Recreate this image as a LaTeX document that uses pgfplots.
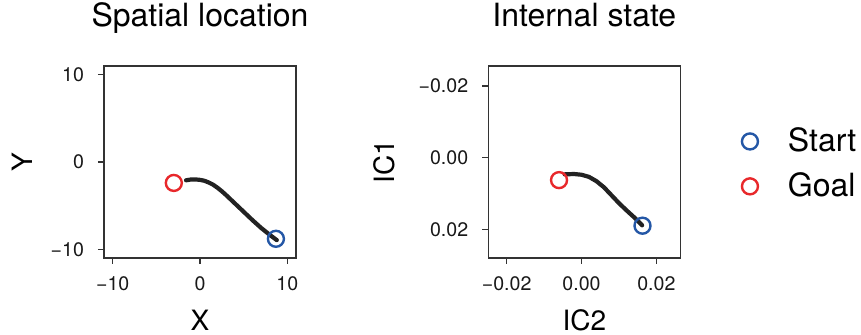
\documentclass[border=0pt]{standalone}
\usepackage{fontspec}
\setmainfont{TeX Gyre Heros}
\usepackage{pgfplots}
\pgfplotsset{compat=1.18}
\definecolor{cred}{HTML}{E8282B}
\definecolor{cblue}{HTML}{2457A6}
\definecolor{cline}{HTML}{222222}
\definecolor{caxis}{HTML}{333333}
\newcommand{\tickfont}{\fontsize{9.8pt}{11pt}\selectfont}
\newcommand{\labfont}{\fontsize{14pt}{16pt}\selectfont}
\newcommand{\titfont}{\fontsize{16pt}{18pt}\selectfont}
\newcommand{\legfont}{\fontsize{16pt}{18pt}\selectfont}
\pgfplotsset{
  myax/.style={
    scale only axis, width=96pt, height=96pt,
    axis line style={caxis, line width=0.6pt},
    tick style={caxis, line width=0.6pt},
    tick align=outside, major tick length=3pt,
    xtick pos=bottom, ytick pos=left,
    scaled ticks=false,
    ticklabel style={font=\tickfont, text=black!90},
    xticklabel style={yshift=-3pt},
    yticklabel style={xshift=-3.5pt},
    title style={font=\titfont, at={(0.5,1)}, anchor=base, yshift=13.8pt},
    xlabel style={font=\labfont, at={(0.5,0)}, anchor=base, yshift=-36.5pt},
    ylabel style={font=\labfont},
    clip=false,
  }
}
\begin{document}
\begin{tikzpicture}
\useasboundingbox (0,0) rectangle (430.5pt,167.5pt);
\begin{axis}[myax, at={(52pt,38.5pt)}, anchor=south west,
  xmin=-11, xmax=11, ymin=-11, ymax=11,
  xtick={-10,0,10}, xticklabels={−10,0,10},
  ytick={-10,0,10}, yticklabels={−10,0,10},
  title={Spatial location}, xlabel={X}, ylabel={Y},
  ylabel style={at={(0,0.5)}, anchor=center, yshift=41pt},
]
\addplot[cline, line width=2.1pt, line join=round, line cap=round] coordinates {
(-1.6,-2.1) (-1.0,-2.0) (-0.5,-2.0) (0,-2.05) (0.5,-2.15) (1.0,-2.35) (1.5,-2.6)
(2.0,-2.95) (2.5,-3.35) (3.0,-3.8) (4.0,-4.75) (5.0,-5.7) (6.0,-6.65) (7.0,-7.55)
(8.0,-8.35) (8.8,-8.95)};
\addplot[only marks, mark=o, mark size=4pt, cblue, line width=1.2pt] coordinates {(8.7,-8.8)};
\addplot[only marks, mark=o, mark size=4pt, cred, line width=1.2pt] coordinates {(-3.0,-2.4)};
\end{axis}
\begin{axis}[myax, at={(244.15pt,38.5pt)}, anchor=south west,
  xmin=-0.0249, xmax=0.0264, ymin=-0.0256, ymax=0.0279, y dir=reverse,
  xtick={-0.02,0,0.02}, xticklabels={−0.02,0.00,0.02},
  ytick={-0.02,0,0.02}, yticklabels={−0.02,0.00,0.02},
  title={Internal state}, xlabel={IC2}, ylabel={IC1},
  ylabel style={at={(0,0.5)}, anchor=center, yshift=52pt},
  legend style={draw=none, fill=none, font=\legfont, at={(1.319,0.49)}, anchor=west,
    row sep=5pt, inner sep=0pt},
  legend cell align=left,
  /tikz/every odd column/.append style={column sep=13pt},
]
\addplot[cline, line width=2.1pt, line join=round, line cap=round, forget plot] coordinates {
(-0.0045,0.0046) (-0.002,0.0045) (0,0.0047) (0.002,0.0053) (0.004,0.0065) (0.006,0.0082)
(0.008,0.0104) (0.010,0.0126) (0.012,0.0146) (0.014,0.0165) (0.0162,0.0188)};
\addplot[only marks, mark=o, mark size=4pt, cblue, line width=1.2pt] coordinates {(0.0163,0.0189)};
\addlegendentry{Start}
\addplot[only marks, mark=o, mark size=4pt, cred, line width=1.2pt] coordinates {(-0.006,0.0062)};
\addlegendentry{Goal}
\end{axis}
\end{tikzpicture}
\end{document}
